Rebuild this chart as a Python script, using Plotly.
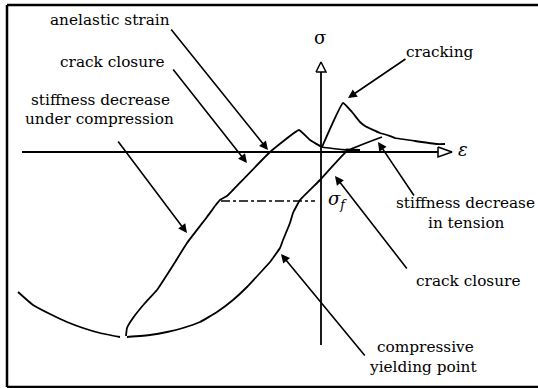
import plotly.graph_objects as go

# ---- data (schematic strain / stress values) ----
tension_eps = [0.01, 0.22, 0.31, 0.39, 0.44, 0.59, 0.66, 0.74, 0.94, 1.16, 1.24]
tension_sig = [0.05, 0.49, 0.40, 0.30, 0.26, 0.19, 0.17, 0.14, 0.11, 0.08, 0.08]

unload_eps = [0.61, 0.26, -0.01, -0.21, -0.28, -0.31, -0.38, -0.41, -0.51, -0.61,
              -0.74, -0.88, -1.04, -1.21, -1.38, -1.54, -1.71, -1.94]
unload_sig = [0.15, 0.01, -0.28, -0.48, -0.61, -0.71, -0.88, -0.96, -1.10, -1.21,
              -1.35, -1.48, -1.60, -1.70, -1.76, -1.80, -1.83, -1.85]

reload_eps = [-1.95, -1.94, -1.88, -1.76, -1.64, -1.49, -1.34, -1.14, -1.06, -1.01,
              -0.94, -0.88, -0.51, -0.22, -0.11, 0.01, 0.26]
reload_sig = [-1.84, -1.76, -1.66, -1.51, -1.38, -1.15, -0.91, -0.65, -0.54, -0.48,
              -0.44, -0.38, 0.00, 0.22, 0.12, 0.05, 0.02]

envelope_eps = [-2.01, -2.21, -2.38, -2.54, -2.71, -2.88, -3.03]
envelope_sig = [-1.85, -1.81, -1.76, -1.70, -1.62, -1.53, -1.40]

sigma_f_eps = [-1.00, -0.06]
sigma_f = -0.49

blob_eps = [0.25, 0.39]
blob_sig = [0.015, 0.01]

axis_eps = [-2.99, 1.31]
axis_sig = [-1.93, 0.90]

labels = ["anelastic strain", "crack closure", "stiffness decrease", "under compression",
          "cracking", "stiffness decrease", "in tension", "crack closure",
          "compressive", "yielding point"]
label_eps = [-2.11, -2.09, -2.21, -2.22, 1.19, 1.44, 1.45, 1.47, 1.04, 1.02]
label_sig = [1.32, 0.90, 0.52, 0.33, 1.00, -0.51, -0.71, -1.29, -1.95, -2.15]

arrow_tail_eps = [-1.51, -1.49, -2.04, 0.86, 0.94, 0.87, 0.45]
arrow_tail_sig = [1.24, 0.84, 0.12, 0.94, -0.45, -1.18, -2.05]
arrow_head_eps = [-0.53, -0.74, -1.34, 0.27, 0.57, 0.14, -0.40]
arrow_head_sig = [0.02, -0.11, -0.81, 0.54, 0.10, -0.24, -1.02]

FONT = "DejaVu Serif"
FS = 15.3
W, H = 538, 388

fig = go.Figure()
curve = dict(color="black", width=1.8)
for xs, ys in [(tension_eps, tension_sig), (unload_eps, unload_sig),
               (reload_eps, reload_sig), (envelope_eps, envelope_sig)]:
    fig.add_trace(go.Scatter(x=xs, y=ys, mode="lines", line=dict(curve, shape="spline", smoothing=0.3),
                             hoverinfo="skip", showlegend=False))

fig.add_trace(go.Scatter(x=blob_eps, y=blob_sig, mode="lines", line=dict(color="black", width=4),
                         hoverinfo="skip", showlegend=False))

# dash-dot sigma_f line
fig.add_trace(go.Scatter(x=sigma_f_eps, y=[sigma_f, sigma_f], mode="lines",
                         line=dict(color="black", width=1.5, dash="dashdot"),
                         hoverinfo="skip", showlegend=False))

# axes lines
fig.add_trace(go.Scatter(x=axis_eps, y=[0, 0], mode="lines", line=dict(color="black", width=1.8),
                         hoverinfo="skip", showlegend=False))
fig.add_trace(go.Scatter(x=[0, 0], y=axis_sig, mode="lines", line=dict(color="black", width=1.8),
                         hoverinfo="skip", showlegend=False))

# hollow arrowheads on axes
hl, hw = 0.14, 0.05
tx = axis_eps[1]
fig.add_trace(go.Scatter(x=[tx - hl, tx, tx - hl, tx - hl], y=[hw, 0, -hw, hw], mode="lines",
                         fill="toself", fillcolor="white", line=dict(color="black", width=1.5),
                         hoverinfo="skip", showlegend=False))
ty = axis_sig[1]
fig.add_trace(go.Scatter(x=[-hw, 0, hw, -hw], y=[ty - 0.10, ty, ty - 0.10, ty - 0.10], mode="lines",
                         fill="toself", fillcolor="white", line=dict(color="black", width=1.5),
                         hoverinfo="skip", showlegend=False))

annotations = []
for t, x, y in zip(labels, label_eps, label_sig):
    annotations.append(dict(x=x, y=y, text=t, showarrow=False, xanchor="center", yanchor="middle",
                            font=dict(family=FONT, size=FS, color="black")))
for ax, ay, x, y in zip(arrow_tail_eps, arrow_tail_sig, arrow_head_eps, arrow_head_sig):
    annotations.append(dict(x=x, y=y, ax=ax, ay=ay, axref="x", ayref="y", xref="x", yref="y",
                            text="", showarrow=True, arrowhead=2, arrowsize=1.1, arrowwidth=1.6,
                            arrowcolor="black"))
annotations.append(dict(x=-0.01, y=1.15, text="σ", showarrow=False, xanchor="center", yanchor="middle",
                        font=dict(family=FONT, size=18, color="black")))
annotations.append(dict(x=1.42, y=0.03, text="<i>ε</i>", showarrow=False, xanchor="center", yanchor="middle",
                        font=dict(family=FONT, size=18, color="black")))
annotations.append(dict(x=0.05, y=-0.48, text="<i>σ</i><sub><i>f</i></sub>", showarrow=False,
                        xanchor="left", yanchor="middle", font=dict(family=FONT, size=18, color="black")))

# frame (left, top, bottom)
frame = dict(color="black", width=2.5)
shapes = [
    dict(type="line", xref="paper", yref="paper", x0=7 / W, x1=7 / W, y0=1 - 5 / H, y1=1 - 387 / H, line=frame),
    dict(type="line", xref="paper", yref="paper", x0=7 / W, x1=1.0, y0=1 - 5 / H, y1=1 - 5 / H, line=frame),
    dict(type="line", xref="paper", yref="paper", x0=7 / W, x1=1.0, y0=1 - 387 / H, y1=1 - 387 / H, line=frame),
]

fig.update_layout(
    width=W, height=H, autosize=False,
    margin=dict(l=0, r=0, t=0, b=0, pad=0),
    paper_bgcolor="white", plot_bgcolor="white",
    font=dict(family=FONT, color="black"),
    xaxis=dict(range=[-3.21, 2.17], visible=False, fixedrange=True),
    yaxis=dict(range=[-2.36, 1.52], visible=False, fixedrange=True),
    annotations=annotations, shapes=shapes, showlegend=False,
)

fig.write_html("out.html", config={"displayModeBar": False},
               post_script="document.body.style.margin='0';")
